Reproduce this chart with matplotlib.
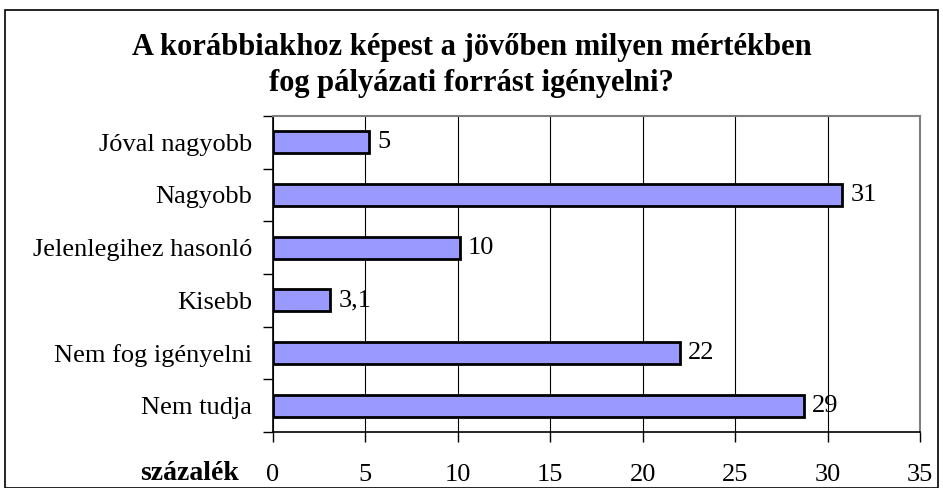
import matplotlib.pyplot as plt
from matplotlib.patches import Rectangle

plt.rcParams['font.family'] = ['Liberation Serif', 'DejaVu Serif']

categories = ['Jóval nagyobb', 'Nagyobb', 'Jelenlegihez hasonló', 'Kisebb',
              'Nem fog igényelni', 'Nem tudja']
values = [5.2, 30.8, 10.1, 3.1, 22.0, 28.7]
value_labels = ['5', '31', '10', '3,1', '22', '29']
x_ticks = [0, 5, 10, 15, 20, 25, 30, 35]

fig = plt.figure(figsize=(9.43, 4.88), dpi=100)
# outer frame of the chart
fig.patches.append(Rectangle((5 / 943, 0), 933 / 943, 478 / 488, transform=fig.transFigure,
                             fill=False, edgecolor='black', linewidth=1.2))

ax = fig.add_axes([273 / 943, 1 - 432 / 488, 647 / 943, 316 / 488])

y = list(range(len(categories)))
ax.barh(y, values, height=0.42, color='#9999ff', edgecolor='black', linewidth=2, zorder=3)
for yi, v, lab in zip(y, values, value_labels):
    ax.text(v + 0.45, yi, lab, va='center', ha='left', fontsize=19, zorder=4)

ax.set_xlim(0, 35)
ax.set_ylim(len(categories) - 0.5, -0.5)
ax.set_xticks(x_ticks)
ax.set_xticklabels([str(t) for t in x_ticks], fontsize=19)
ax.set_yticks(y)
ax.set_yticklabels(categories, fontsize=19)
ax.tick_params(axis='y', length=0, pad=15)
ax.set_yticks([i + 0.5 for i in range(-1, len(categories))], minor=True)
ax.tick_params(axis='y', which='minor', length=7, width=1, direction='out')
ax.tick_params(axis='x', length=7, width=1, direction='out', pad=16)
ax.grid(axis='x', color='black', linewidth=0.8, zorder=0)

for side in ['top', 'right']:
    ax.spines[side].set_color('#808080')
    ax.spines[side].set_linewidth(1.5)
for side in ['left', 'bottom']:
    ax.spines[side].set_color('black')
    ax.spines[side].set_linewidth(1.2)

fig.text(0.5, 1 - 48 / 488, 'A korábbiakhoz képest a jövőben milyen mértékben',
         ha='center', va='center', fontsize=22, fontweight='bold')
fig.text(0.5, 1 - 84 / 488, 'fog pályázati forrást igényelni?',
         ha='center', va='center', fontsize=22, fontweight='bold')
fig.text(190 / 943, 1 - 473 / 488, 'százalék', ha='center', va='center',
         fontsize=20, fontweight='bold')

fig.savefig('out.png', dpi=100)
